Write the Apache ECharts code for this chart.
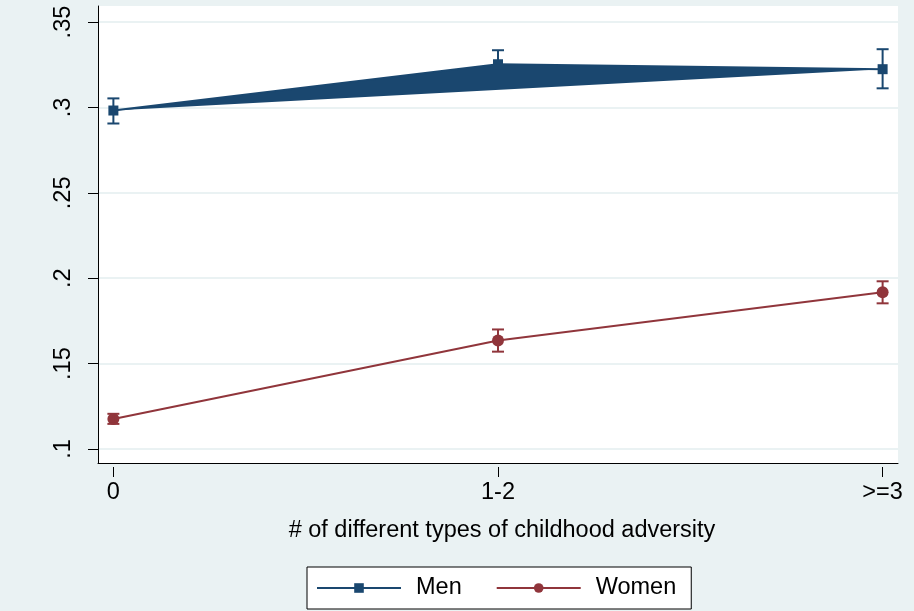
<!DOCTYPE html>
<html>
<head>
<meta charset="utf-8">
<script src="https://cdn.jsdelivr.net/npm/echarts@6/dist/echarts.min.js"></script>
<style>
  html, body { margin: 0; padding: 0; background: #eaf2f3; }
  #chart { width: 914px; height: 611px; }
</style>
</head>
<body>
<div id="chart"></div>
<script>
// categories on the x axis
const categories = ['0', '1-2', '>=3'];
const yTicks = [0.1, 0.15, 0.2, 0.25, 0.3, 0.35];

// point estimates
const menVals = [0.2982, 0.3253, 0.3224];
const womenVals = [0.1176, 0.1635, 0.1918];
// confidence bounds
const menLow = [0.2906, 0.3172, 0.3112];
const menHigh = [0.3053, 0.3335, 0.3341];
const womenLow = [0.1147, 0.1570, 0.1853];
const womenHigh = [0.1206, 0.1700, 0.1982];

const MEN = '#1a476f';
const WOMEN = '#90353b';
const FONT = '"Liberation Sans", Arial, sans-serif';
const FS = 23.5;

const chart = echarts.init(document.getElementById('chart'));

function fmt(v) {
  return String(+v.toFixed(2)).replace(/^0/, '');
}

function errorBar(params, api) {
  const x = api.value(0);
  const lo = api.coord([x, api.value(1)]);
  const hi = api.coord([x, api.value(2)]);
  const w = 6;
  const style = { stroke: api.visual('color'), lineWidth: 2 };
  return {
    type: 'group',
    children: [
      { type: 'line', shape: { x1: lo[0], y1: lo[1], x2: hi[0], y2: hi[1] }, style },
      { type: 'line', shape: { x1: lo[0] - w, y1: lo[1], x2: lo[0] + w, y2: lo[1] }, style },
      { type: 'line', shape: { x1: hi[0] - w, y1: hi[1], x2: hi[0] + w, y2: hi[1] }, style }
    ]
  };
}

// the filled shape joining the three Men points
function menBand(params, api) {
  if (params.dataIndex !== 0) return null;
  const pts = menVals.map((v, i) => api.coord([i, v]));
  return { type: 'polygon', shape: { points: pts }, style: { fill: MEN } };
}

const xIdx = categories.map((c, i) => i);

chart.setOption({
  backgroundColor: '#eaf2f3',
  animation: false,
  title: {
    text: '# of different types of childhood adversity',
    left: 497,
    textAlign: 'center',
    top: 514,
    textStyle: { fontFamily: FONT, fontSize: FS, fontWeight: 'normal', color: '#000' }
  },
  grid: {
    left: 98, right: 16, top: 6, bottom: 148,
    show: true, backgroundColor: '#fff', borderWidth: 0
  },
  legend: {
    data: ['Men', 'Women'],
    left: 307, top: 567,
    padding: [9, 15, 9, 9],
    itemGap: 34,
    itemWidth: 84,
    itemHeight: 12,
    backgroundColor: '#fff',
    borderColor: '#000',
    borderWidth: 1,
    borderRadius: 0,
    textStyle: { fontFamily: FONT, fontSize: FS, color: '#000', padding: [0, 0, 0, 10] }
  },
  xAxis: [{
    type: 'value',
    min: -0.04, max: 2.04,
    axisLine: { show: true, onZero: false, lineStyle: { color: '#000', width: 1 } },
    axisTick: { show: false },
    axisLabel: { show: false },
    splitLine: { show: false }
  }, {
    type: 'value',
    position: 'bottom',
    offset: 4,
    min: -0.04, max: 2.04,
    axisLine: { show: false },
    axisTick: { show: true, length: 10, customValues: xIdx, lineStyle: { color: '#000' } },
    axisLabel: {
      customValues: xIdx,
      margin: 14,
      fontFamily: FONT, fontSize: FS, color: '#000',
      formatter: v => categories[Math.round(v)]
    },
    splitLine: { show: false }
  }],
  yAxis: {
    type: 'value',
    min: 0.0918, max: 0.3594,
    axisLine: { show: true, onZero: false, lineStyle: { color: '#000', width: 1 } },
    axisTick: { show: true, length: 10, customValues: yTicks, lineStyle: { color: '#000' } },
    axisLabel: {
      customValues: yTicks,
      rotate: 90,
      margin: 22,
      fontFamily: FONT, fontSize: FS, color: '#000',
      formatter: v => fmt(v)
    },
    splitLine: { show: true, lineStyle: { color: '#eaf2f3', width: 2 } }
  },
  series: [
    {
      name: 'menCI',
      type: 'custom',
      renderItem: errorBar,
      encode: { x: 0, y: [1, 2] },
      itemStyle: { color: MEN },
      data: xIdx.map(i => [i, menLow[i], menHigh[i]]),
      z: 2
    },
    {
      name: 'band',
      type: 'custom',
      renderItem: menBand,
      encode: { x: 0, y: 1 },
      data: menVals.map((v, i) => [i, v]),
      z: 3
    },
    {
      name: 'Men',
      type: 'line',
      data: menVals.map((v, i) => [i, v]),
      symbol: 'rect', symbolSize: 10,
      itemStyle: { color: MEN },
      lineStyle: { color: MEN, width: 2 },
      z: 4
    },
    {
      name: 'Women',
      type: 'line',
      data: womenVals.map((v, i) => [i, v]),
      symbol: 'circle', symbolSize: 12,
      itemStyle: { color: WOMEN },
      lineStyle: { color: WOMEN, width: 2 },
      z: 3
    },
    {
      name: 'womenCI',
      type: 'custom',
      renderItem: errorBar,
      encode: { x: 0, y: [1, 2] },
      itemStyle: { color: WOMEN },
      data: xIdx.map(i => [i, womenLow[i], womenHigh[i]]),
      z: 4
    }
  ]
});
</script>
</body>
</html>
